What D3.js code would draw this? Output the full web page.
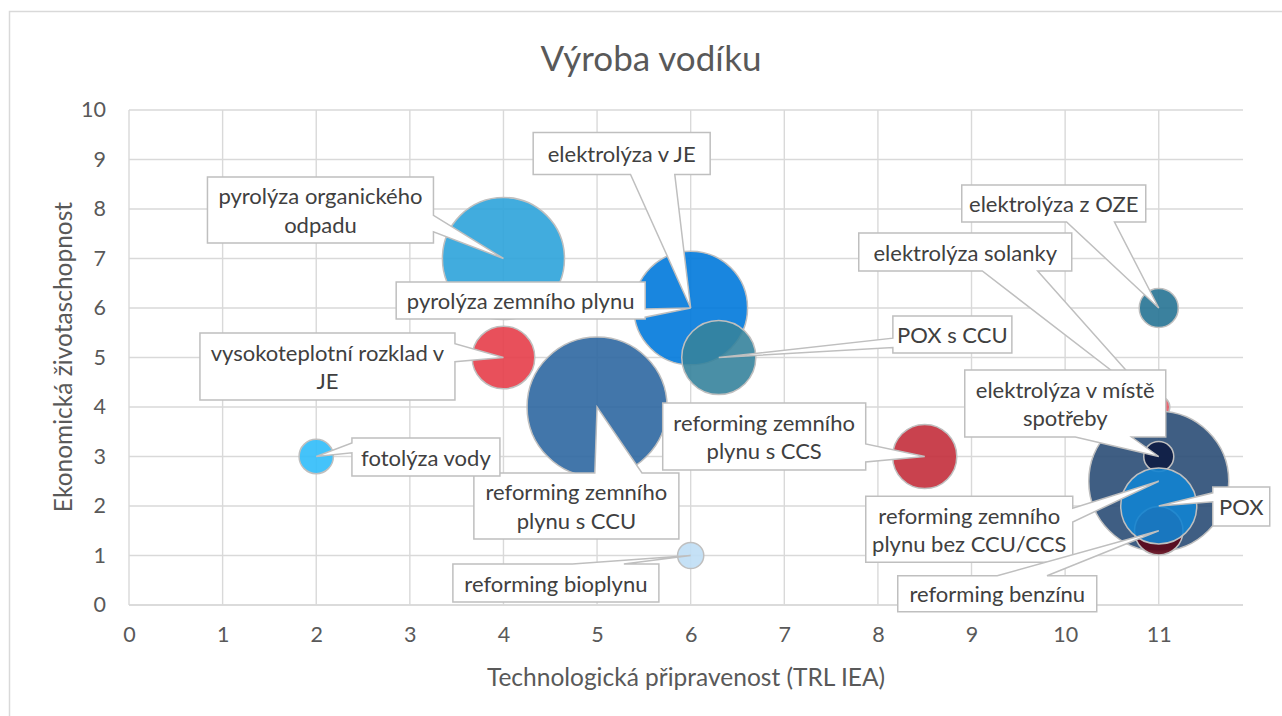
<!DOCTYPE html>
<html><head><meta charset="utf-8">
<script src="https://cdn.jsdelivr.net/npm/d3@7"></script>
<style>body{margin:0;background:#fff}svg{display:block}</style>
</head><body>
<svg id="c" width="1282" height="716"></svg>
<script>
// ---------- DATA ----------
const names = [
  "pyrolýza organického odpadu",
  "pyrolýza zemního plynu",
  "elektrolýza v JE",
  "POX s CCU",
  "vysokoteplotní rozklad v JE",
  "reforming zemního plynu s CCU",
  "reforming zemního plynu s CCS",
  "fotolýza vody",
  "reforming bioplynu",
  "elektrolýza z OZE",
  "elektrolýza solanky",
  "reforming zemního plynu bez CCU/CCS",
  "elektrolýza v místě spotřeby",
  "reforming benzínu",
  "POX"
];
const labelLines = [
  ["pyrolýza organického", "odpadu"],
  ["pyrolýza zemního plynu"],
  ["elektrolýza v JE"],
  ["POX s CCU"],
  ["vysokoteplotní rozklad v", "JE"],
  ["reforming zemního", "plynu s CCU"],
  ["reforming zemního", "plynu s CCS"],
  ["fotolýza vody"],
  ["reforming bioplynu"],
  ["elektrolýza z OZE"],
  ["elektrolýza solanky"],
  ["reforming zemního", "plynu bez CCU/CCS"],
  ["elektrolýza v místě", "spotřeby"],
  ["reforming benzínu"],
  ["POX"]
];
const trl  = [4, 6, 6, 6.3, 4, 5, 8.5, 2, 6, 11, 11, 11, 11, 11, 11];
const econ = [7, 6, 6, 5, 5, 4, 3, 3, 1, 6, 4, 2.5, 3, 1.5, 2];
const bubbleSize = [76, 0, 66, 28, 20, 100, 21, 6, 3.5, 7.8, 2.5, 100, 4.6, 12, 29.5];
const bubbleColors = ["#2CA3DA", "#0079DB", "#0079DB", "#36839C", "#E53D49", "#2D67A1",
  "#C32E3B", "#30BDF9", "#BFDEF5", "#267393", "#E75965", "#2A4D75", "#0D1C43", "#5C0617", "#1283D0"];
const xTicks = [0,1,2,3,4,5,6,7,8,9,10,11];
const yTicks = [0,1,2,3,4,5,6,7,8,9,10];
const title = "Výroba vodíku";
const xTitle = "Technologická připravenost (TRL IEA)";
const yTitle = "Ekonomická životaschopnost";

// ---------- LAYOUT (label callouts, offsets in px from the bubble centre) ----------
const calloutLayout = [
  {dx:-183, dy:-48.5, w:226, h:66, side:"right", f1:0.58, f2:0.83},
  {dx:-170, dy:-7.5, w:249, h:37, side:"right", f1:0.73, f2:0.95},
  {dx:-69, dy:-154.5, w:177, h:42, side:"bottom", f1:0.55, f2:0.80},
  {dx:233.6, dy:-23, w:119, h:37, side:"left", f1:0.6, f2:0.85},
  {dx:-176, dy:9, w:255, h:67, side:"right", f1:0.16, f2:0.43},
  {dx:-20.7, dy:99, w:205, h:66, side:"top", f1:0.59, f2:0.82},
  {dx:-160.5, dy:-20, w:203, h:67, side:"right", f1:0.61, f2:0.88},
  {dx:109.7, dy:0.5, w:148, h:38, side:"left", f1:0.13, f2:0.39},
  {dx:-134.8, dy:27.5, w:206, h:38, side:"top", f1:0.58, f2:0.83},
  {dx:-105, dy:-104.5, w:184, h:37, side:"bottom", f1:0.57, f2:0.83},
  {dx:-193.5, dy:-155, w:213, h:38, side:"bottom", f1:0.58, f2:0.84},
  {dx:-189.5, dy:48, w:207, h:66, side:"right", f1:0.18, f2:0.39},
  {dx:-93.5, dy:-53, w:201, h:67, side:"bottom", f1:0.55, f2:0.83},
  {dx:-161.5, dy:63, w:199, h:36, side:"top", f1:0.5, f2:0.75},
  {dx:82.5, dy:0.5, w:57, h:39, side:"left", f1:0.15, f2:0.38}
];

// ---------- CHART ----------
const svg = d3.select("#c");
const plot = {left:129, right:1243, top:110, bottom:605};
const x = d3.scaleLinear().domain([0, 11.9]).range([plot.left, plot.right]);
const y = d3.scaleLinear().domain([0, 10]).range([plot.bottom, plot.top]);
const r = d3.scaleSqrt().domain([0, 100]).range([0, 70]);
const FONT = "Lato, 'Open Sans', sans-serif";

// chart border
svg.append("rect").attr("x", 9.5).attr("y", 11.5).attr("width", 1300).attr("height", 730)
  .attr("fill", "none").attr("stroke", "#d9d9d9").attr("stroke-width", 1.5);

// gridlines
const grid = svg.append("g");
grid.selectAll("line.h").data(yTicks).join("line")
  .attr("x1", plot.left).attr("x2", plot.right)
  .attr("y1", d => y(d)).attr("y2", d => y(d))
  .attr("stroke", d => d === 0 ? "#cfcfcf" : "#d9d9d9").attr("stroke-width", 1.4);
grid.selectAll("line.v").data(xTicks).join("line")
  .attr("y1", plot.top).attr("y2", plot.bottom)
  .attr("x1", d => x(d)).attr("x2", d => x(d))
  .attr("stroke", "#d9d9d9").attr("stroke-width", 1.4);

// axes (labels only)
const xAxis = d3.axisBottom(x).tickValues(xTicks).tickSize(0).tickPadding(22);
const gx = svg.append("g").attr("transform", `translate(0,${plot.bottom})`).call(xAxis);
const yAxis = d3.axisLeft(y).tickValues(yTicks).tickSize(0).tickPadding(23);
const gy = svg.append("g").attr("transform", `translate(${plot.left},0)`).call(yAxis);
[gx, gy].forEach(g => {
  g.select(".domain").remove();
  g.selectAll("text").attr("font-family", FONT).attr("font-size", 21.5).attr("fill", "#595959");
});

// bubbles
const pts = names.map((n, i) => ({n, i, x: trl[i], y: econ[i], s: bubbleSize[i], c: bubbleColors[i]}));
svg.append("g").selectAll("circle").data(pts.filter(d => d.s > 0)).join("circle")
  .attr("cx", d => x(d.x)).attr("cy", d => y(d.y)).attr("r", d => r(d.s))
  .attr("fill", d => d.c).attr("fill-opacity", 0.9)
  .attr("stroke", "#bfbfbf").attr("stroke-width", 1.5);

// callouts
function calloutPath(bx0, by0, w, h, side, f1, f2, tx, ty) {
  const bx1 = bx0 + w, by1 = by0 + h;
  const p = [[bx0, by0]];
  if (side === "top") p.push([bx0 + f1*w, by0], [tx, ty], [bx0 + f2*w, by0]);
  p.push([bx1, by0]);
  if (side === "right") p.push([bx1, by0 + f1*h], [tx, ty], [bx1, by0 + f2*h]);
  p.push([bx1, by1]);
  if (side === "bottom") p.push([bx0 + f2*w, by1], [tx, ty], [bx0 + f1*w, by1]);
  p.push([bx0, by1]);
  if (side === "left") p.push([bx0, by0 + f2*h], [tx, ty], [bx0, by0 + f1*h]);
  return "M" + p.map(q => q.join(",")).join("L") + "Z";
}
const cg = svg.append("g");
pts.forEach(d => {
  const L = calloutLayout[d.i];
  const tx = x(d.x), ty = y(d.y);
  const cx = tx + L.dx, cy = ty + L.dy;
  const bx0 = cx - L.w/2, by0 = cy - L.h/2;
  cg.append("path").attr("d", calloutPath(bx0, by0, L.w, L.h, L.side, L.f1, L.f2, tx, ty))
    .attr("fill", "#fff").attr("stroke", "#bfbfbf").attr("stroke-width", 1.5)
    .attr("stroke-linejoin", "miter");
  const lines = labelLines[d.i];
  const lh = 28.5;
  lines.forEach((t, k) => {
    cg.append("text").attr("x", cx).attr("y", cy + (k - (lines.length - 1)/2) * lh)
      .attr("text-anchor", "middle").attr("dominant-baseline", "central")
      .attr("font-family", FONT).attr("font-size", 22).attr("fill", "#404040").text(t);
  });
});

// titles
svg.append("text").attr("x", 651).attr("y", 57).attr("text-anchor", "middle")
  .attr("dominant-baseline", "central").attr("font-family", FONT).attr("font-size", 35)
  .attr("fill", "#595959").text(title);
svg.append("text").attr("x", 686).attr("y", 676).attr("text-anchor", "middle")
  .attr("dominant-baseline", "central").attr("font-family", FONT).attr("font-size", 24.5)
  .attr("fill", "#595959").text(xTitle);
svg.append("text").attr("transform", "translate(62,357) rotate(-90)").attr("text-anchor", "middle")
  .attr("dominant-baseline", "central").attr("font-family", FONT).attr("font-size", 24.5)
  .attr("fill", "#595959").text(yTitle);
</script>
</body></html>
